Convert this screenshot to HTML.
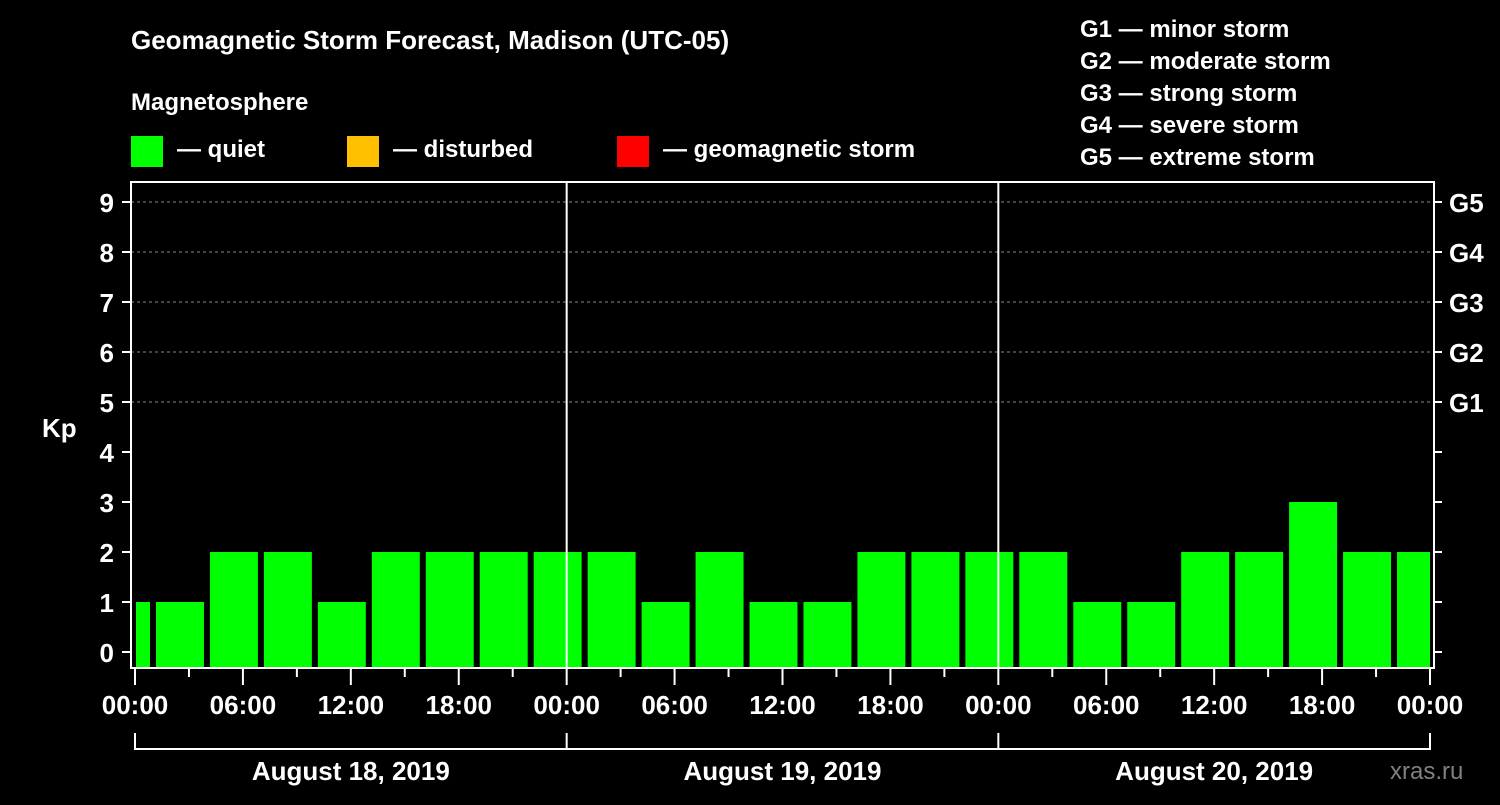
<!DOCTYPE html>
<html><head><meta charset="utf-8"><style>
body{margin:0;background:#000;width:1500px;height:800px;overflow:hidden}
svg text{font-family:"Liberation Sans",Arial,sans-serif;font-weight:bold;fill:#fff}
</style></head><body>
<svg id="c" width="1500" height="800">
<text x="131" y="49" font-size="26">Geomagnetic Storm Forecast, Madison (UTC-05)</text>
<text x="131" y="110" font-size="24">Magnetosphere</text>
<rect x="131" y="136" width="32" height="31" fill="#00ff00"/>
<text x="177" y="157" font-size="24">— quiet</text>
<rect x="347" y="136" width="32" height="31" fill="#ffc000"/>
<text x="393" y="157" font-size="24">— disturbed</text>
<rect x="617" y="136" width="32" height="31" fill="#ff0000"/>
<text x="663" y="157" font-size="24">— geomagnetic storm</text>
<g font-size="24">
<text x="1080" y="37">G1 — minor storm</text>
<text x="1080" y="69">G2 — moderate storm</text>
<text x="1080" y="101">G3 — strong storm</text>
<text x="1080" y="133">G4 — severe storm</text>
<text x="1080" y="165">G5 — extreme storm</text>
</g>
<text x="42" y="437" font-size="26">Kp</text>
<text x="1390" y="779" font-size="24" fill="#808080" style="fill:#808080;font-weight:normal">xras.ru</text>
<g id="plot"></g>
</svg>
<script>
const kpValues=[1,1,2,2,1,2,2,2,2,2,1,2,1,1,2,2,2,2,1,1,2,2,3,2,2];
const yTicks=[0,1,2,3,4,5,6,7,8,9];
const gLabels=["G1","G2","G3","G4","G5"];
const gLevels=[5,6,7,8,9];
const xTickLabels=["00:00","06:00","12:00","18:00","00:00","06:00","12:00","18:00","00:00","06:00","12:00","18:00","00:00"];
const dayLabels=["August 18, 2019","August 19, 2019","August 20, 2019"];
const firstBarHour=-2, barHours=3;
const X0=135,PX_H=1295/72,L=131,R=1434,T=182,B=668;
const x=h=>X0+h*PX_H, y=v=>652-50*v;
const NS="http://www.w3.org/2000/svg", g=document.getElementById('plot');
function mk(t,a){const e=document.createElementNS(NS,t);for(const k in a)e.setAttribute(k,a[k]);g.appendChild(e);return e;}
gLevels.forEach((v,i)=>{
 const l=mk('line',{x1:L,x2:R,y1:y(v),y2:y(v),stroke:'#888','stroke-dasharray':'3,3'});
 
 
 const t=mk('text',{x:1449,y:y(v)+10,'font-size':26});t.textContent=gLabels[i];
 
 
});
kpValues.forEach((v,i)=>{
 const h0=firstBarHour+i*barHours;
 let x1=Math.max(x(h0)+3,L+5),x2=Math.min(x(h0+barHours)-3,R-4);
 const c=v>=5?'#ff0000':(v>=4?'#ffc000':'#00ff00');
 const r=mk('rect',{x:x1,y:y(v),width:x2-x1,height:B-y(v),fill:c});
 
 
});
yTicks.forEach(v=>{
 mk('line',{x1:122,x2:L,y1:y(v),y2:y(v),stroke:'#fff','stroke-width':2});
 mk('line',{x1:R,x2:1442,y1:y(v),y2:y(v),stroke:'#fff','stroke-width':2});
 const t=mk('text',{x:114,y:y(v)+10,'font-size':26,'text-anchor':'end'});t.textContent=v;
 
 
});
[24,48].forEach(h=>mk('line',{x1:x(h),x2:x(h),y1:T,y2:B,stroke:'#fff','stroke-width':2}));
const fr=mk('rect',{x:L,y:T,width:R-L,height:B-T,fill:'none',stroke:'#fff','stroke-width':2});


for(let h=0;h<=72;h+=3){
 const major=h%6===0;
 mk('line',{x1:x(h),x2:x(h),y1:B,y2:major?685:677,stroke:'#fff','stroke-width':2});
}
xTickLabels.forEach((s,i)=>{
 const t=mk('text',{x:x(i*6),y:714,'font-size':26,'text-anchor':'middle'});t.textContent=s;
 
 
});
mk('line',{x1:x(0),x2:x(72),y1:749,y2:749,stroke:'#fff','stroke-width':2});
[0,24,48,72].forEach(h=>mk('line',{x1:x(h),x2:x(h),y1:733,y2:750,stroke:'#fff','stroke-width':2}));
dayLabels.forEach((s,i)=>{
 const t=mk('text',{x:x(i*24+12),y:780,'font-size':26,'text-anchor':'middle'});t.textContent=s;
 
 
});
</script>
</body></html>
